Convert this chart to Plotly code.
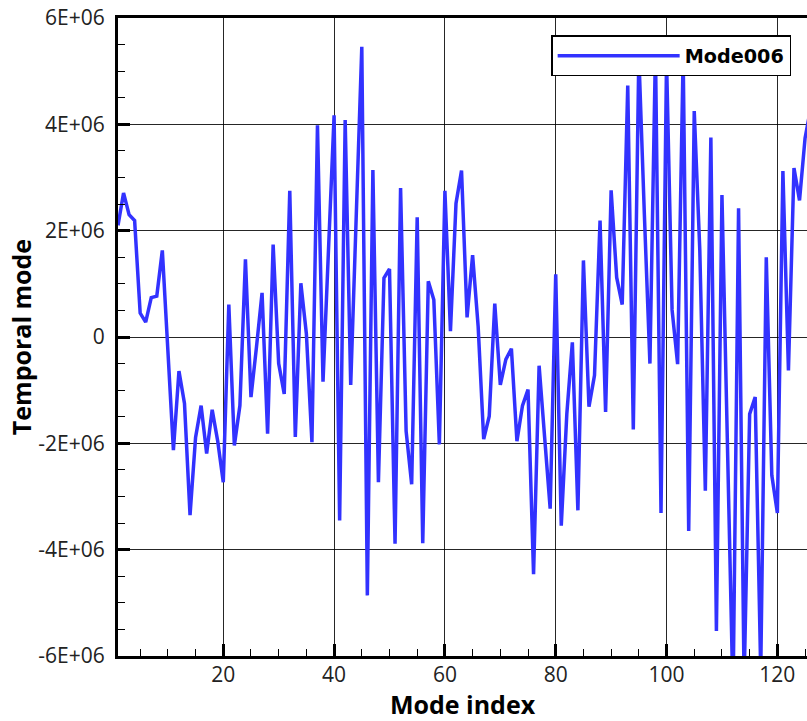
import plotly.graph_objects as go

# Data (values in units of 1E+06)
mode_index = list(range(1, 127))
temporal_mode_e6 = [
    2.10, 2.71, 2.30, 2.19, 0.45, 0.28, 0.74, 0.77, 1.63, -0.30,
    -2.13, -0.64, -1.25, -3.35, -1.89, -1.29, -2.19, -1.37, -1.96, -2.73,
    0.61, -2.04, -1.29, 1.46, -1.13, -0.18, 0.83, -1.82, 1.74, -0.50,
    -1.07, 2.75, -1.88, 1.01, 0.06, -1.98, 3.98, -0.84, 1.60, 4.17,
    -3.45, 4.08, -0.90, 2.30, 5.46, -4.86, 3.14, -2.73, 1.11, 1.28,
    -3.89, 2.80, -1.77, -2.77, 2.25, -3.88, 1.05, 0.70, -2.02, 2.75,
    0.11, 2.51, 3.13, 0.37, 1.54, 0.20, -1.92, -1.49, 0.63, -0.90,
    -0.42, -0.22, -1.96, -1.29, -0.99, -4.46, -0.54, -1.89, -3.23, 1.18,
    -3.55, -1.45, -0.10, -3.26, 1.44, -1.31, -0.72, 2.19, -1.41, 2.76,
    1.12, 0.61, 4.73, -1.74, 5.30, 2.30, -0.50, 5.40, -3.31, 5.20,
    0.51, -0.51, 5.30, -3.65, 4.25, 1.64, -2.89, 3.75, -5.53, 2.67,
    -1.80, -6.80, 2.42, -6.50, -1.45, -1.13, -6.30, 1.50, -2.60, -3.31,
    3.12, -0.63, 3.18, 2.57, 3.74, 4.30,
]
temporal_mode = [v * 1e6 for v in temporal_mode_e6]

series_name = "Mode006"
x_tick_vals = [20, 40, 60, 80, 100, 120]
x_tick_text = ["20", "40", "60", "80", "100", "120"]
y_tick_vals = [-6e6, -4e6, -2e6, 0, 2e6, 4e6, 6e6]
y_tick_text = ["-6E+06", "-4E+06", "-2E+06", "0", "2E+06", "4E+06", "6E+06"]

fig = go.Figure()
fig.add_trace(go.Scatter(
    x=mode_index, y=temporal_mode, mode="lines", name=series_name,
    line=dict(color="rgb(50,50,255)", width=3.5),
    showlegend=True,
))

tick_font = dict(family="Open Sans", size=21, color="#222222")
title_font = dict(family="Open Sans", size=25, color="black", weight="bold")

fig.update_layout(
    width=807, height=721,
    margin=dict(l=118, r=0, t=18, b=65, pad=0),
    paper_bgcolor="white", plot_bgcolor="white",
    showlegend=True,
    legend=dict(
        x=0.977, y=0.973, xanchor="right", yanchor="top",
        bgcolor="white", bordercolor="black", borderwidth=1.5,
        font=dict(family="DejaVu Sans", size=19.2, color="black", weight="bold"),
        itemwidth=122,
    ),
    xaxis=dict(
        range=[1, 125.35], automargin=False,
        tickmode="array", tickvals=x_tick_vals, ticktext=x_tick_text,
        ticks="inside", ticklen=12, tickwidth=3, tickcolor="black",
        showline=True, linecolor="black", linewidth=3, mirror=True,
        showgrid=True, gridcolor="rgba(0,0,0,0.85)", gridwidth=1,
        zeroline=False,
        tickfont=tick_font,
        ticklabelstandoff=-2,
        minor=dict(tickmode="linear", tick0=0, dtick=5, ticks="inside",
                   ticklen=7, tickwidth=1.2, tickcolor="black", showgrid=False),
        title=dict(text="Mode index", font=title_font, standoff=14),
    ),
    yaxis=dict(
        range=[-6e6, 6e6], automargin=False,
        tickmode="array", tickvals=y_tick_vals, ticktext=y_tick_text,
        ticks="inside", ticklen=12, tickwidth=3, tickcolor="black",
        showline=True, linecolor="black", linewidth=3, mirror=False,
        showgrid=True, gridcolor="rgba(0,0,0,0.85)", gridwidth=1,
        zeroline=False,
        tickfont=tick_font,
        ticklabelstandoff=6,
        minor=dict(tickmode="linear", tick0=0, dtick=5e5, ticks="inside",
                   ticklen=7, tickwidth=1.2, tickcolor="black", showgrid=False),
        title=dict(text="Temporal mode", font=title_font, standoff=0),
    ),
)

fig.write_html("out.html")
